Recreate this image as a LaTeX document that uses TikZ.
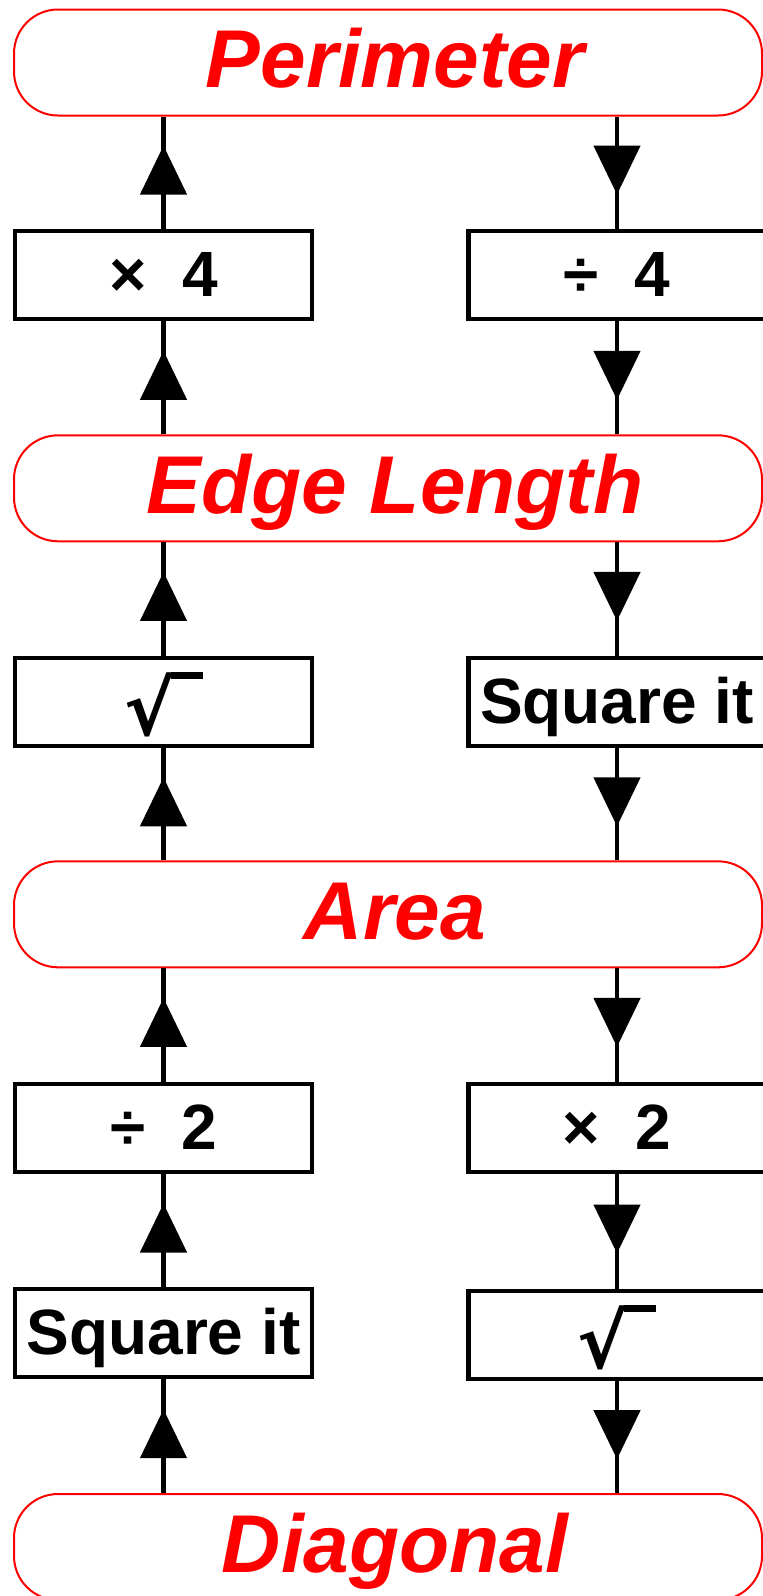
\documentclass[tikz,border=0pt]{standalone}
\usepackage{fontspec}
\setmainfont{Liberation Sans}
\newfontfamily\radfont{DejaVu Sans}
\usetikzlibrary{arrows.meta,decorations.markings}
\newcommand{\radsign}{{\radfont\bfseries\fontsize{75}{75}\selectfont √}\kern-4pt\rule[56pt]{32pt}{7pt}}
\newcommand{\lbl}[1]{\hspace*{14pt}#1}
\tikzset{
  redbox/.style={draw=red, line width=2pt, rounded corners=44pt,
    minimum width=748pt, minimum height=106pt, inner sep=0pt, text=red,
    font=\fontsize{82}{82}\selectfont\bfseries\itshape,
    text height=50pt, text depth=0pt},
  opbox/.style={draw=black, line width=4.7pt, minimum width=297pt,
    minimum height=88pt, inner sep=0pt, fill=white,
    font=\fontsize{64}{64}\selectfont\bfseries,
    text height=42pt, text depth=0pt},
  radbox/.style={opbox, text height=66pt},
  link/.style={line width=4.7pt},
  uplink/.style={link, postaction={decorate}, decoration={markings,
    mark=at position 0.5 with {\pgftransformxshift{27pt}\arrow{Triangle[length=49pt,width=46pt]}}}},
  downlink/.style={link, postaction={decorate}, decoration={markings,
    mark=at position 0.5 with {\pgftransformxshift{22pt}\arrow{Triangle[length=49pt,width=46pt]}}}}
}
\begin{document}
\begin{tikzpicture}[x=1pt,y=-1pt]
\useasboundingbox (0,0) rectangle (763,1596);
\clip (0,0) rectangle (763,1596);
\fill[white] (0,0) rectangle (763,1596);

\node[redbox] (per) at (388,62.5) {\lbl{Perimeter}};
\node[opbox] (x4) at (163.5,275) {×~~4};
\node[opbox] (d4) at (617,275) {÷~~4};
\node[redbox] (edge) at (388,488.3) {\lbl{Edge Length}};
\node[radbox] (rt1) at (163.5,702) {\radsign};
\node[opbox] (sqa) at (617,702) {Square it};
\node[redbox] (area) at (388,914.3) {\lbl{Area}};
\node[opbox] (d2) at (163.5,1128) {÷~~2};
\node[opbox] (x2) at (617,1128) {×~~2};
\node[opbox] (sqb) at (163.5,1333) {Square it};
\node[radbox] (rt2) at (617,1335) {\radsign};
\node[redbox] (diag) at (388,1547) {\lbl{Diagonal}};

% left column (upward)
\draw[uplink] (x4.north) -- (x4.north |- per.south);
\draw[uplink] (x4.north |- edge.north) -- (x4.south);
\draw[uplink] (rt1.north) -- (rt1.north |- edge.south);
\draw[uplink] (rt1.north |- area.north) -- (rt1.south);
\draw[uplink] (d2.north) -- (d2.north |- area.south);
\draw[uplink] (sqb.north) -- (d2.south);
\draw[uplink] (sqb.north |- diag.north) -- (sqb.south);

% right column (downward)
\draw[downlink] (d4.north |- per.south) -- (d4.north);
\draw[downlink] (d4.south) -- (d4.south |- edge.north);
\draw[downlink] (sqa.north |- edge.south) -- (sqa.north);
\draw[downlink] (sqa.south) -- (sqa.south |- area.north);
\draw[downlink] (x2.north |- area.south) -- (x2.north);
\draw[downlink] (x2.south) -- (rt2.north);
\draw[downlink] (rt2.south) -- (rt2.south |- diag.north);
\end{tikzpicture}
\end{document}
